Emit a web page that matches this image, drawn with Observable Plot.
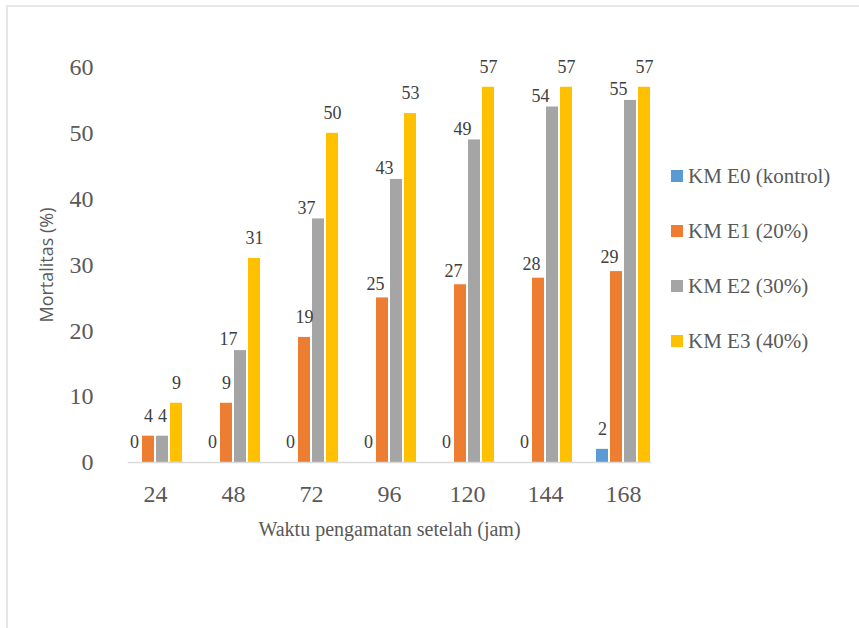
<!DOCTYPE html>
<html>
<head>
<meta charset="utf-8">
<script src="https://cdn.jsdelivr.net/npm/d3@7"></script>
<script src="https://cdn.jsdelivr.net/npm/@observablehq/plot@0.6"></script>
<style>
  html, body { margin: 0; padding: 0; background: #fff; }
  #wrap { position: relative; width: 859px; height: 628px; overflow: hidden; background: #fff; }
  #border { position: absolute; left: 6px; top: 5px; width: 900px; height: 700px;
            border-top: 2px solid #e6e6e6; border-left: 2px solid #e6e6e6; }
  #chart { position: absolute; left: 0; top: 0; }
  #chart svg, #chart svg text { font-family: "Liberation Serif", serif !important; }
  #chart g[aria-label="y-axis label"], #chart g[aria-label="y-axis label"] text {
    font-family: "Open Sans", "Liberation Sans", sans-serif !important; font-size: 18px; }
  #chart g[aria-label="fx-axis label"] text { font-size: 20px; }
  #legend { position: absolute; left: 671px; top: 165px;
            font-family: "Liberation Serif", serif;
            font-size: 21px; color: #595959; }
  #legend .row { display: flex; align-items: center; height: 22px; margin-bottom: 33px; white-space: nowrap; }
  #legend .sw { width: 12px; height: 12px; margin-right: 5px; }
</style>
</head>
<body>
<div id="wrap">
  <div id="border"></div>
  <div id="chart"></div>
  <div id="legend"></div>
</div>
<script>
// ---- data ----
const hours = ["24", "48", "72", "96", "120", "144", "168"];
const series = ["KM E0 (kontrol)", "KM E1 (20%)", "KM E2 (30%)", "KM E3 (40%)"];
const e0 = [0, 0, 0, 0, 0, 0, 2];
const e1 = [4, 9, 19, 25, 27, 28, 29];
const e2 = [4, 17, 37, 43, 49, 54, 55];
const e3 = [9, 31, 50, 53, 57, 57, 57];
const colors = ["#5B9BD5", "#ED7D31", "#A5A5A5", "#FFC000"];
const yTicks = [0, 10, 20, 30, 40, 50, 60];
const xTitle = "Waktu pengamatan setelah (jam)";
const yTitle = "Mortalitas (%)";

const valuesBySeries = [e0, e1, e2, e3];
const data = hours.flatMap((h, i) =>
  series.map((s, j) => ({ hour: h, series: s, idx: i, value: valuesBySeries[j][i] }))
);

// label groups (Excel-like label placement)
const isE1 = d => d.series === series[1];
const isE2 = d => d.series === series[2];
const shiftedE1 = d => isE1(d) && d.idx >= 3;
const shiftedE2 = d => isE2(d) && d.idx >= 1;
const centered = d => !shiftedE1(d) && !shiftedE2(d);

const labelCommon = {
  fx: "hour", x: "series", y: "value", text: d => String(d.value),
  fontSize: 18, fill: "#404040"
};

const chart = Plot.plot({
  width: 859,
  height: 628,
  marginLeft: 113,
  marginRight: 195,
  marginTop: 67,
  marginBottom: 166,
  style: { color: "#595959", background: "transparent" },
  fx: { domain: hours, paddingInner: 0.314, paddingOuter: 0.157 },
  x: { domain: series, paddingInner: 0.143, paddingOuter: 0, axis: null },
  y: { domain: [0, 60], axis: null },
  color: { domain: series, range: colors },
  marks: [
    Plot.axisY({ ticks: yTicks, tickSize: 0, tickPadding: 35, fontSize: 24,
      label: yTitle, labelAnchor: "center", labelArrow: "none", labelOffset: 88 }),
    Plot.axisFx({ anchor: "bottom", tickSize: 0, tickPadding: 22, fontSize: 24,
      label: xTitle, labelAnchor: "center", labelArrow: "none", labelOffset: 73 }),
    Plot.barY(data, { fx: "hour", x: "series", y: "value", fill: "series" }),
    Plot.frame({ anchor: "bottom", stroke: "#d9d9d9", strokeWidth: 1.5, facet: "super" }),
    Plot.text(data, { ...labelCommon, filter: centered, dy: -20 }),
    Plot.text(data, { ...labelCommon, filter: shiftedE1, dx: -7, dy: -14 }),
    Plot.text(data, { ...labelCommon, filter: shiftedE2, dx: -12, dy: -11 })
  ]
});
document.getElementById("chart").appendChild(chart);

// legend
const legend = d3.select("#legend");
series.forEach((s, i) => {
  const row = legend.append("div").attr("class", "row");
  row.append("div").attr("class", "sw").style("background", colors[i]);
  row.append("span").text(s);
});
</script>
</body>
</html>
